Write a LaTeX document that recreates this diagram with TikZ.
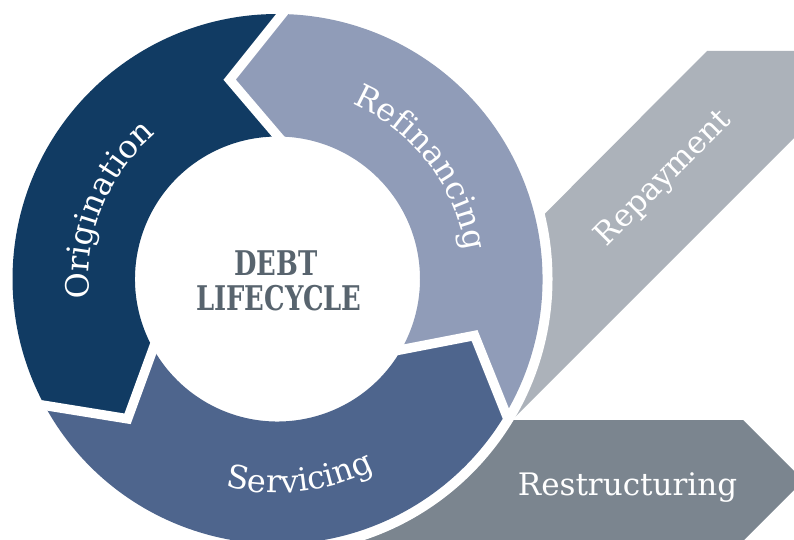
\documentclass[tikz,border=0pt]{standalone}
\usepackage{graphicx}
\usepackage{fontspec}
\setmainfont{DejaVu Serif}
\usetikzlibrary{decorations.text}
\definecolor{orig}{HTML}{113B63}
\definecolor{refi}{HTML}{909CB8}
\definecolor{serv}{HTML}{4E658D}
\definecolor{repay}{HTML}{ACB2BA}
\definecolor{restr}{HTML}{7B858F}
\definecolor{centertxt}{HTML}{58646E}
\newcommand{\lblfont}{\fontsize{31}{31}\selectfont}
\newcommand{\arcfont}{\fontsize{32}{32}\selectfont}
\newcommand{\ctrfont}{\fontsize{34}{34}\selectfont\bfseries}
\begin{document}
\begin{tikzpicture}[x=1pt,y=1pt,
  gapline/.style={draw=white,line width=9.5pt,line join=miter},
  arclabel/.style={decorate,decoration={text along path,text align=center,text color=white,text={#1}}},
  sidelabel/.style={text=white,font=\lblfont,inner sep=0pt},
  centerlabel/.style={text=centertxt,font=\ctrfont,inner sep=0pt,anchor=base}]
\useasboundingbox (0,0) rectangle (794,539);
\clip (0,0) rectangle (794,539);
\coordinate (C) at (277.5,260);
% side arrows
\fill[repay] (707,488) -- (794.5,488) -- (794.5,401.5) -- (470,77) -- (430,210) -- cycle;
\fill[restr] (300,119) -- (743,119) -- (803.5,58.5) -- (743,-2) -- (300,-2) -- cycle;
\fill[white] (C) circle[radius=275];
\begin{scope}[shift={(C)}]
  % Servicing
  \fill[serv] (208:265) arc[start angle=208,end angle=329,radius=265] -- (344:205)
    -- (329:142.5) arc[start angle=329,end angle=208,radius=142.5] -- (223:205) -- cycle;
  % Refinancing
  \fill[refi] (-31:265) arc[start angle=-31,end angle=88.5,radius=265] -- (103.5:205)
    -- (88.5:142.5) arc[start angle=88.5,end angle=-31,radius=142.5] -- (-16:205) -- cycle;
  % Origination
  \fill[orig] (88.5:265) arc[start angle=88.5,end angle=208,radius=265] -- (223:205)
    -- (208:142.5) arc[start angle=208,end angle=88.5,radius=142.5] -- (103.5:205) -- cycle;
  % gaps
  \draw[gapline] (88.5:268) -- (103.5:205) -- (88.5:139);
  \draw[gapline] (208:268) -- (223:205) -- (208:139);
  \draw[gapline] (329:268) -- (344:205) -- (329:139);
  % ring labels
  \path[arclabel={|\arcfont|Origination}] (200:189) arc[start angle=200,end angle=116,radius=189];
  \path[arclabel={|\arcfont|Refinancing}] (79.6:190) arc[start angle=79.6,end angle=-4.4,radius=190];
  \path[arclabel={|\arcfont|Servicing}] (-125.5:214) arc[start angle=-125.5,end angle=-41.5,radius=214];
\end{scope}
\node[sidelabel,rotate=45] (repaylbl) at (664,360) {Repayment};
\node[sidelabel,anchor=base] (restrlbl) at (627.5,44) {Restructuring};
\node[centerlabel] (debt) at (276,264) {\scalebox{0.76}[1]{DEBT}};
\node[centerlabel] (life) at (279,229) {\scalebox{0.76}[1]{LIFECYCLE}};
\end{tikzpicture}
\end{document}
